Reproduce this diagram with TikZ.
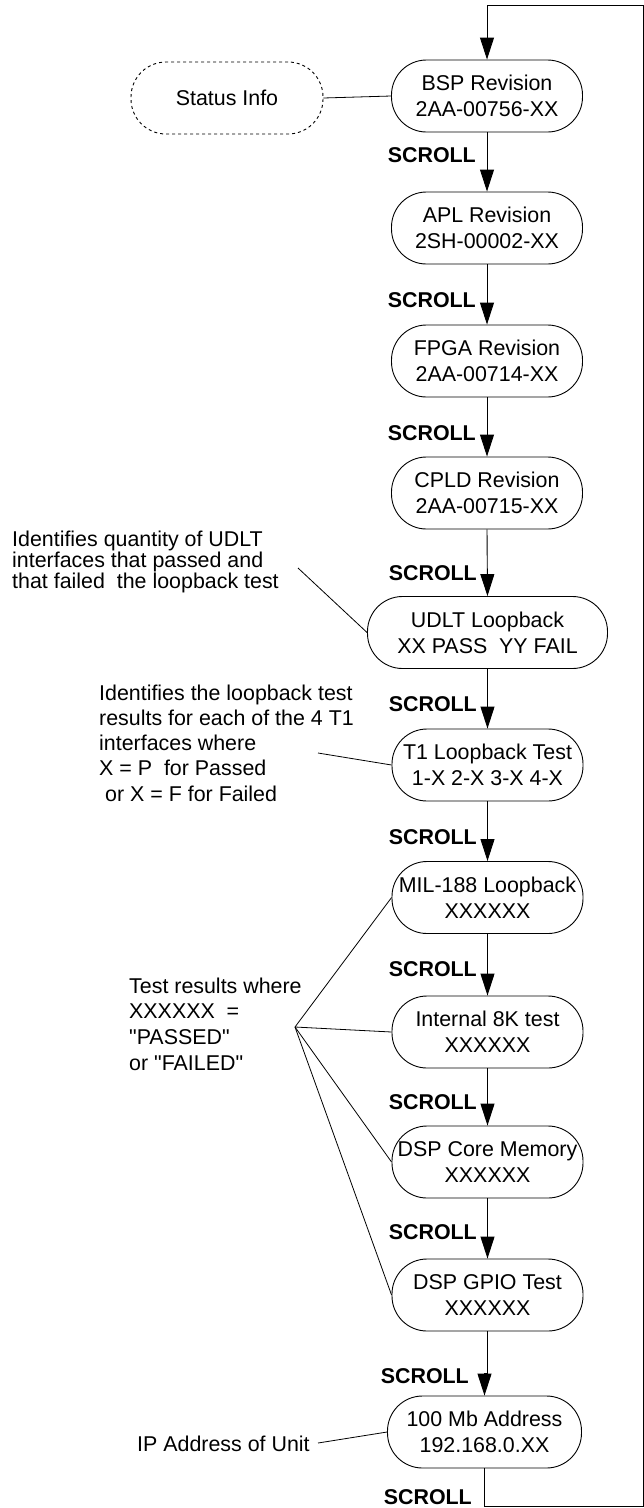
\documentclass[tikz,border=0pt]{standalone}
\usepackage{fontspec}
\setmainfont{Liberation Sans}[Ligatures=TeXOff]
\usetikzlibrary{arrows.meta}
\begin{document}
\begin{tikzpicture}[x=1pt,y=-1pt,
  every node/.style={font=\fontsize{21.4}{26}\selectfont},
  stepbox/.style={draw,line width=0.9pt,rounded corners=35pt,minimum width=191pt,minimum height=72pt,inner sep=0pt,align=center},
  note/.style={align=left,inner sep=0pt,anchor=west},
  scroll/.style={font=\fontsize{21.4}{26}\selectfont\bfseries,anchor=east,inner sep=0pt},
  flow/.style={line width=0.9pt,-{Triangle[length=22pt,width=14pt]}},
  link/.style={line width=0.8pt}]
\useasboundingbox (0,0) rectangle (644,1508);
% main boxes
\node[stepbox] (bsp) at (487,96) {BSP Revision\\2AA-00756-XX};
\node[stepbox] (apl) at (487,228) {APL Revision\\2SH-00002-XX};
\node[stepbox] (fpga) at (487,361) {FPGA Revision\\2AA-00714-XX};
\node[stepbox] (cpld) at (487,493) {CPLD Revision\\2AA-00715-XX};
\node[stepbox,minimum width=240pt] (udlt) at (487.5,632.5) {UDLT Loopback\\XX PASS~~YY FAIL};
\node[stepbox] (t1) at (487.5,765) {T1 Loopback Test\\1-X 2-X 3-X 4-X};
\node[stepbox] (mil) at (487.5,897.5) {MIL-188 Loopback\\XXXXXX};
\node[stepbox] (int) at (487.5,1032) {Internal 8K test\\XXXXXX};
\node[stepbox] (dsp) at (487.5,1162) {DSP Core Memory\\XXXXXX};
\node[stepbox] (gpio) at (487.5,1295) {DSP GPIO Test\\XXXXXX};
\node[stepbox,minimum width=194pt] (mb) at (484.5,1432) {100 Mb Address\\192.168.0.XX};
\node[stepbox,dashed,minimum width=192pt] (status) at (227,98) {Status Info};
% scroll labels
\node[scroll] (s1) at (476,155) {SCROLL};
\node[scroll] (s2) at (476,300) {SCROLL};
\node[scroll] (s3) at (476,433) {SCROLL};
\node[scroll] (s4) at (477,573) {SCROLL};
\node[scroll] (s5) at (477,704) {SCROLL};
\node[scroll] (s6) at (477,837) {SCROLL};
\node[scroll] (s7) at (477,969) {SCROLL};
\node[scroll] (s8) at (477,1102) {SCROLL};
\node[scroll] (s9) at (477,1232) {SCROLL};
\node[scroll] (s10) at (469,1376) {SCROLL};
\node[scroll] (s11) at (472,1497) {SCROLL};
% annotations
\node[note,font=\fontsize{21.4}{18.5}\selectfont] (n1) at (12,562) {Identifies quantity of UDLT\\interfaces that passed and\\that failed~~the loopback test};
\node[note,font=\fontsize{21.4}{25.3}\selectfont] (n2) at (99,743) {Identifies the loopback test\\results for each of the 4 T1\\interfaces where\\X = P~~for Passed\\\hspace*{6pt}or X = F for Failed};
\node[note,font=\fontsize{21.4}{25.7}\selectfont] (n3) at (129,1024) {Test results where\\XXXXXX~~=\\"PASSED"\\or "FAILED"};
\node[note] (n4) at (137,1444) {IP Address of Unit};
% flow
\draw[flow] (bsp.south) -- (apl.north);
\draw[flow] (apl.south) -- (fpga.north);
\draw[flow] (fpga.south) -- (cpld.north);
\draw[flow] (cpld.south) -- (udlt.north);
\draw[flow] (udlt.south) -- (t1.north);
\draw[flow] (t1.south) -- (mil.north);
\draw[flow] (mil.south) -- (int.north);
\draw[flow] (int.south) -- (dsp.north);
\draw[flow] (dsp.south) -- (gpio.north);
\coordinate (j1) at (487.5,1373);
\coordinate (j2) at (484.5,1373);
\draw[flow] (gpio.south) -- (j1) -- (j2) -- (mb.north);
% loop back
\coordinate (l1) at (484.5,1506);
\coordinate (l2) at (643,1506);
\coordinate (l3) at (643,5);
\coordinate (l4) at (487,5);
\draw[flow] (mb.south) -- (l1) -- (l2) -- (l3) -- (l4) -- (bsp.north);
% annotation links
\draw[link] (status.east) -- (bsp.west);
\coordinate (a1) at (298,568);
\draw[link] (a1) -- (udlt.west);
\coordinate (a2) at (318,753);
\draw[link] (a2) -- (t1.west);
\coordinate (fan) at (295,1027);
\draw[link] (fan) -- (mil.west);
\draw[link] (fan) -- (int.west);
\draw[link] (fan) -- (dsp.west);
\draw[link] (fan) -- (gpio.west);
\coordinate (a3) at (318,1443);
\draw[link] (a3) -- (mb.west);
\end{tikzpicture}
\end{document}
